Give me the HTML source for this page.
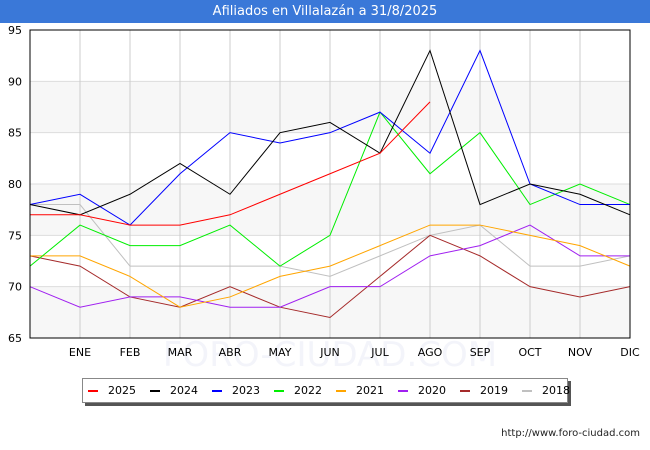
<!DOCTYPE html>
<html><head><meta charset="utf-8"><style>
body{margin:0;width:650px;height:450px;background:#fff;font-family:"DejaVu Sans","Liberation Sans",sans-serif;overflow:hidden;position:relative}
#title{position:absolute;left:0;top:0;width:650px;height:23px;background:#3a78d8;color:#fff;font-size:13px;text-align:center;line-height:23px}
#legend{position:absolute;left:82px;top:378px;width:484px;height:23px;border:1px solid #888;background:#fff;box-shadow:3px 3px 0 #555;font-size:11px;}
.le{position:absolute;top:0;height:23px;display:flex;align-items:center;white-space:nowrap}
.le span.sw{display:inline-block;flex-shrink:0;width:10px;height:2px;margin-right:10px}
#url{position:absolute;right:10px;top:428px;font-size:10px;color:#222}
</style></head><body>
<div id="title">Afiliados en Villalazán a 31/8/2025</div>
<svg id="chart" width="650" height="450" style="position:absolute;left:0;top:0"></svg>
<div id="legend"></div>
<div id="url">http://www.foro-ciudad.com</div>
<script>
const months=["","ENE","FEB","MAR","ABR","MAY","JUN","JUL","AGO","SEP","OCT","NOV","DIC"];
const yTicks=[65,70,75,80,85,90,95];
const seriesNames=["2025","2024","2023","2022","2021","2020","2019","2018"];
const seriesColors=["#ff0000","#000000","#0000ff","#00ee00","#ffa500","#a020f0","#a52a2a","#c0c0c0"];
const s2025=[77,77,76,76,77,79,81,83,88];
const s2024=[78,77,79,82,79,85,86,83,93,78,80,79,77];
const s2023=[78,79,76,81,85,84,85,87,83,93,80,78,78];
const s2022=[72,76,74,74,76,72,75,87,81,85,78,80,78];
const s2021=[73,73,71,68,69,71,72,74,76,76,75,74,72];
const s2020=[70,68,69,69,68,68,70,70,73,74,76,73,73];
const s2019=[73,72,69,68,70,68,67,71,75,73,70,69,70];
const s2018=[78,78,72,72,72,72,71,73,75,76,72,72,73];
const allSeries=[s2025,s2024,s2023,s2022,s2021,s2020,s2019,s2018];
const X0=30,X1=630,Y0=338,Y1=30;
const x=i=>X0+i*(X1-X0)/12;
const y=v=>Y0-(v-65)*(Y0-Y1)/30;
const svg=document.getElementById('chart');
const NS="http://www.w3.org/2000/svg";
function mk(t,a){const e=document.createElementNS(NS,t);for(const k in a)e.setAttribute(k,a[k]);svg.appendChild(e);return e;}
for(let i=0;i<yTicks.length-1;i+=2){
 const b=mk('rect',{x:X0,y:y(yTicks[i]+5),width:X1-X0,height:y(yTicks[i])-y(yTicks[i]+5),fill:'#f7f7f7'});
 
 
}
const wm=mk('text',{x:330,y:366,'text-anchor':'middle','font-size':34,fill:'#f3f4fa'});
wm.textContent="FORO-CIUDAD.COM";


yTicks.forEach(v=>{
 const l=mk('line',{x1:X0,x2:X1,y1:y(v),y2:y(v),stroke:'#ddd'});
 
 
 const t=mk('text',{x:X0-8,y:y(v)+4,'text-anchor':'end','font-size':11,fill:'#000'});
 t.textContent=v;
 
 
});
months.forEach((m,i)=>{
 if(i>0){const l=mk('line',{x1:x(i),x2:x(i),y1:Y1,y2:Y0,stroke:'#ccc'});
 
 }
 const t=mk('text',{x:x(i),y:356,'text-anchor':'middle','font-size':11,fill:'#000'});
 t.textContent=m;
 
 
});
for(let s=allSeries.length-1;s>=0;s--){
 const d=allSeries[s].map((v,i)=>x(i)+','+y(v)).join(' ');
 const p=mk('polyline',{points:d,fill:'none',stroke:seriesColors[s],'stroke-width':1});
 
 
}
const fr=mk('rect',{x:X0,y:Y1,width:X1-X0,height:Y0-Y1,fill:'none',stroke:'#000'});


const lg=document.getElementById('legend');
seriesNames.forEach((n,i)=>{
 const e=document.createElement('div');e.className='le';
 e.style.left=(5+i*62)+'px';
 
 
 e.innerHTML='<span class="sw" style="background:'+seriesColors[i]+'"></span>'+n;
 lg.appendChild(e);
});
</script>
</body></html>
